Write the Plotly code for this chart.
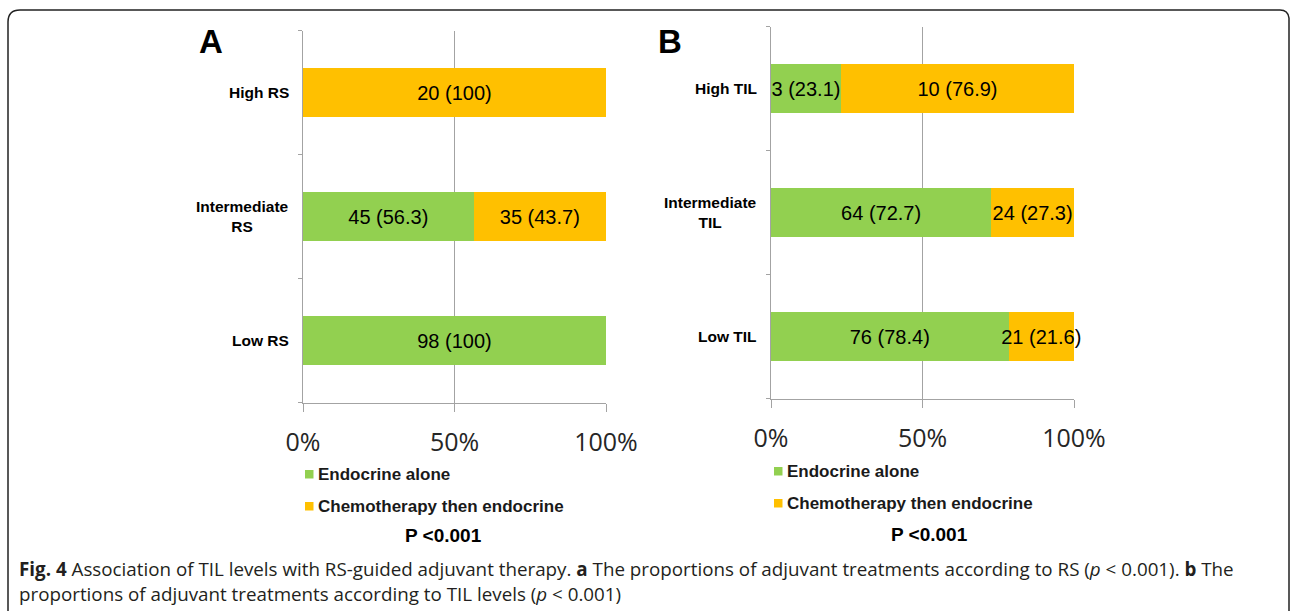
import plotly.graph_objects as go

# ---------------- data ----------------
categories_a = ["Low RS", "Intermediate<br>RS", "High RS"]          # bottom -> top
endocrine_n_a = [98, 45, 0]
endocrine_pct_a = [100, 56.3, 0]
chemo_n_a = [0, 35, 20]
chemo_pct_a = [0, 43.7, 100]

categories_b = ["Low TIL", "Intermediate<br>TIL", "High TIL"]       # bottom -> top
endocrine_n_b = [76, 64, 3]
endocrine_pct_b = [78.4, 72.7, 23.1]
chemo_n_b = [21, 24, 10]
chemo_pct_b = [21.6, 27.3, 76.9]

series_names = ["Endocrine alone", "Chemotherapy then endocrine"]
series_colors = ["#92D050", "#FFC000"]
tick_vals = [0, 50, 100]
tick_text = ["0%", "50%", "100%"]
panel_letters = ["A", "B"]
p_text = "P <0.001"
caption_lines = [
    "<b>Fig. 4</b> Association of TIL levels with RS-guided adjuvant therapy. <b>a</b> The proportions of adjuvant treatments according to RS (<i>p</i> &lt; 0.001). <b>b</b> The",
    "proportions of adjuvant treatments according to TIL levels (<i>p</i> &lt; 0.001)",
]

# ---------------- helpers ----------------
W, H = 1290, 611
def px(x):
    return x / W
def py(y):
    return 1 - y / H

def lab(n, p):
    return "" if n == 0 else f"{n} ({p:g})"

GRID = "#A3A3A3"
fig = go.Figure()

panels = [
    dict(cats=categories_a, en=endocrine_n_a, ep=endocrine_pct_a, cn=chemo_n_a, cp=chemo_pct_a,
         xa="x", ya="y"),
    dict(cats=categories_b, en=endocrine_n_b, ep=endocrine_pct_b, cn=chemo_n_b, cp=chemo_pct_b,
         xa="x2", ya="y2"),
]

for pnl in panels:
    for name, color, ns, ps in [(series_names[0], series_colors[0], pnl["en"], pnl["ep"]),
                                (series_names[1], series_colors[1], pnl["cn"], pnl["cp"])]:
        fig.add_trace(go.Bar(
            y=pnl["cats"], x=ps, orientation="h", name=name,
            marker=dict(color=color, line=dict(width=0)),
            text=[lab(n, p) for n, p in zip(ns, ps)],
            textposition="inside", insidetextanchor="middle", textangle=0,
            constraintext="none", cliponaxis=False,
            textfont=dict(family="Liberation Sans, Arial", size=20, color="#000000"),
            xaxis=pnl["xa"], yaxis=pnl["ya"], showlegend=False, hoverinfo="skip",
        ))

# geometry (pixels)
geo = [
    dict(x0=303, x1=606, ytop=30.5, ybot=402.5, letter_x=211, letter_y=41,
         lab_right=291, leg_sq_x=305, leg_txt_x=316, leg_y=[474, 506], p_x=443, p_y=535),
    dict(x0=771, x1=1074, ytop=26.5, ybot=398.5, letter_x=670, letter_y=41,
         lab_right=759, leg_sq_x=774, leg_txt_x=785, leg_y=[471, 503], p_x=930, p_y=534),
]

axis_common_x = dict(range=[0, 100], tickmode="array", tickvals=tick_vals, ticktext=tick_text,
                     showgrid=True, gridcolor=GRID, gridwidth=1, showline=True, linecolor=GRID,
                     linewidth=1, ticks="outside", ticklen=8, tickcolor=GRID, zeroline=False,
                     ticklabelstandoff=9, automargin=False,
                     tickfont=dict(family="Open Sans", size=25, color="#262626"), fixedrange=True)
axis_common_y = dict(type="category", categoryorder="array", showline=True, linecolor=GRID,
                     linewidth=1, ticks="outside", ticklen=4, tickcolor=GRID, tickson="boundaries",
                     showticklabels=False, showgrid=False, zeroline=False, fixedrange=True,
                     automargin=False)

fig.update_layout(
    xaxis=dict(axis_common_x, domain=[px(geo[0]["x0"]), px(geo[0]["x1"])], anchor="y"),
    yaxis=dict(axis_common_y, domain=[py(geo[0]["ybot"]), py(geo[0]["ytop"])], anchor="x",
               categoryarray=categories_a),
    xaxis2=dict(axis_common_x, domain=[px(geo[1]["x0"]), px(geo[1]["x1"])], anchor="y2"),
    yaxis2=dict(axis_common_y, domain=[py(geo[1]["ybot"]), py(geo[1]["ytop"])], anchor="x2",
                categoryarray=categories_b),
)

annotations = []
shapes = []
for i, (g, cats) in enumerate(zip(geo, [categories_a, categories_b])):
    yref = "y" if i == 0 else "y2"
    for k, c in enumerate(cats):
        annotations.append(dict(
            x=px(g["lab_right"]), xref="paper", y=k, yref=yref, text=f"<b>{c}</b>",
            xanchor="right", yanchor="middle", align="center", showarrow=False,
            font=dict(family="Liberation Sans, Arial", size=15.5, color="#000000"),
        ))
    annotations.append(dict(
        x=px(g["letter_x"]), y=py(g["letter_y"]), xref="paper", yref="paper",
        text=f"<b>{panel_letters[i]}</b>", showarrow=False, xanchor="center", yanchor="middle",
        font=dict(family="Liberation Sans, Arial", size=33, color="#000000"),
    ))
    for name, color, ly in zip(series_names, series_colors, g["leg_y"]):
        shapes.append(dict(type="rect", xref="paper", yref="paper",
                           x0=px(g["leg_sq_x"]), x1=px(g["leg_sq_x"] + 8.5),
                           y0=py(ly + 4.5), y1=py(ly - 4),
                           fillcolor=color, line=dict(width=0)))
        annotations.append(dict(
            x=px(g["leg_txt_x"]), y=py(ly), xref="paper", yref="paper",
            text=f"<b>{name}</b>", showarrow=False, xanchor="left", yanchor="middle",
            font=dict(family="Liberation Sans, Arial", size=17, color="#1a1a1a"),
        ))
    annotations.append(dict(
        x=px(g["p_x"]), y=py(g["p_y"]), xref="paper", yref="paper",
        text=f"<b>{p_text}</b>", showarrow=False, xanchor="center", yanchor="middle",
        font=dict(family="Liberation Sans, Arial", size=19, color="#000000"),
    ))

for line, cy in zip(caption_lines, [569, 594]):
    annotations.append(dict(
        x=px(17), y=py(cy), xref="paper", yref="paper", text=line, showarrow=False,
        xanchor="left", yanchor="middle",
        font=dict(family="Open Sans", size=18.8, color="#231f20"),
    ))

frame = (f"M {px(8)},{py(611)} L {px(8)},{py(22)} Q {px(8)},{py(10)} {px(20)},{py(10)} "
         f"L {px(1280)},{py(10)} Q {px(1288)},{py(10)} {px(1289)},{py(18)} L {px(1289)},{py(611)}")
shapes.append(dict(type="path", xref="paper", yref="paper", path=frame,
                   line=dict(color="#222222", width=1.5)))

fig.update_layout(
    width=W, height=H, autosize=False,
    margin=dict(l=0, r=0, t=0, b=0, pad=0, autoexpand=False),
    paper_bgcolor="white", plot_bgcolor="white",
    barmode="stack", bargap=0.605, showlegend=False,
    annotations=annotations, shapes=shapes,
)

fig.write_html(
    "out.html",
    config={"displayModeBar": False},
    post_script="document.documentElement.style.margin='0';document.body.style.margin='0';"
                "document.body.style.overflow='hidden';",
)
